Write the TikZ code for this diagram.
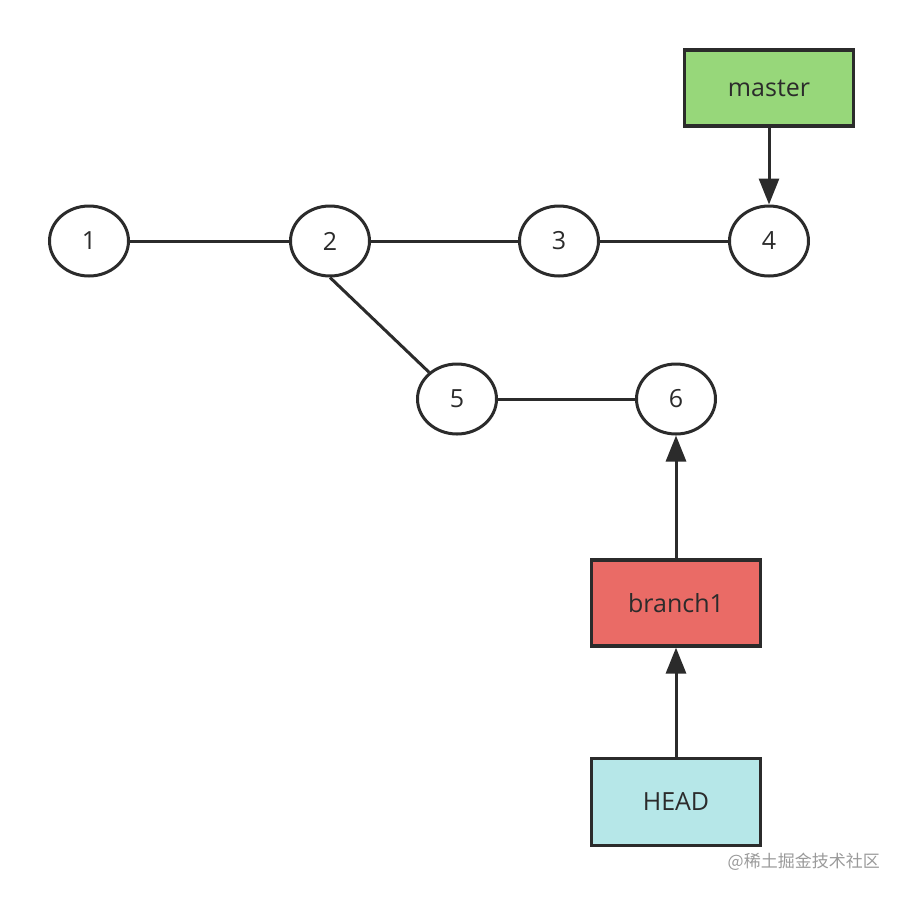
\documentclass[tikz,border=0pt]{standalone}
\usepackage{fontspec}
\setmainfont{Open Sans}
\newfontfamily\cjkfont{Noto Sans CJK SC}
\usetikzlibrary{shapes.geometric,arrows.meta}
\definecolor{ink}{HTML}{2B2B2B}
\definecolor{mgreen}{HTML}{97D77A}
\definecolor{bred}{HTML}{EA6B66}
\definecolor{hcyan}{HTML}{B6E7E8}
\definecolor{wm}{HTML}{9A9A9A}
\tikzset{
  commit/.style={ellipse, draw=ink, line width=3pt, fill=white, minimum width=79pt, minimum height=70pt, inner sep=0pt, font=\fontsize{25}{30}\selectfont, text=ink},
  refbox/.style={rectangle, draw=ink, line width=3.2pt, minimum width=169pt, inner sep=0pt, font=\fontsize{25}{30}\selectfont, text=ink},
  link/.style={draw=ink, line width=3pt},
  ptr/.style={draw=ink, line width=3pt, -{Triangle[length=26pt,width=20pt]}}
}
\begin{document}
\begin{tikzpicture}[x=1pt,y=-1pt]
\useasboundingbox (0,0) rectangle (905,898);
\node[commit] (c1) at (89,241) {1};
\node[commit] (c2) at (330,241) {2};
\node[commit] (c3) at (559,241) {3};
\node[commit] (c4) at (769,241) {4};
\node[commit] (c5) at (457,399) {5};
\node[commit] (c6) at (676,399) {6};
\node[refbox, fill=mgreen, minimum height=76pt] (master) at (769,88) {master};
\node[refbox, fill=bred, minimum height=86pt] (branch) at (676,603) {branch1};
\node[refbox, fill=hcyan, minimum height=87pt] (head) at (676,802) {HEAD};
\draw[link] (c1) -- (c2);
\draw[link] (c2) -- (c3);
\draw[link] (c3) -- (c4);
\draw[link] (c2.south) -- (c5);
\draw[link] (c5) -- (c6);
\draw[ptr] (master) -- (c4);
\draw[ptr] (branch) -- (c6);
\draw[ptr] (head) -- (branch);
\node[anchor=east, text=wm, font=\cjkfont\fontsize{17}{20}\selectfont, inner sep=0pt] (wmark) at (880,862) {@稀土掘金技术社区};
\end{tikzpicture}
\end{document}
